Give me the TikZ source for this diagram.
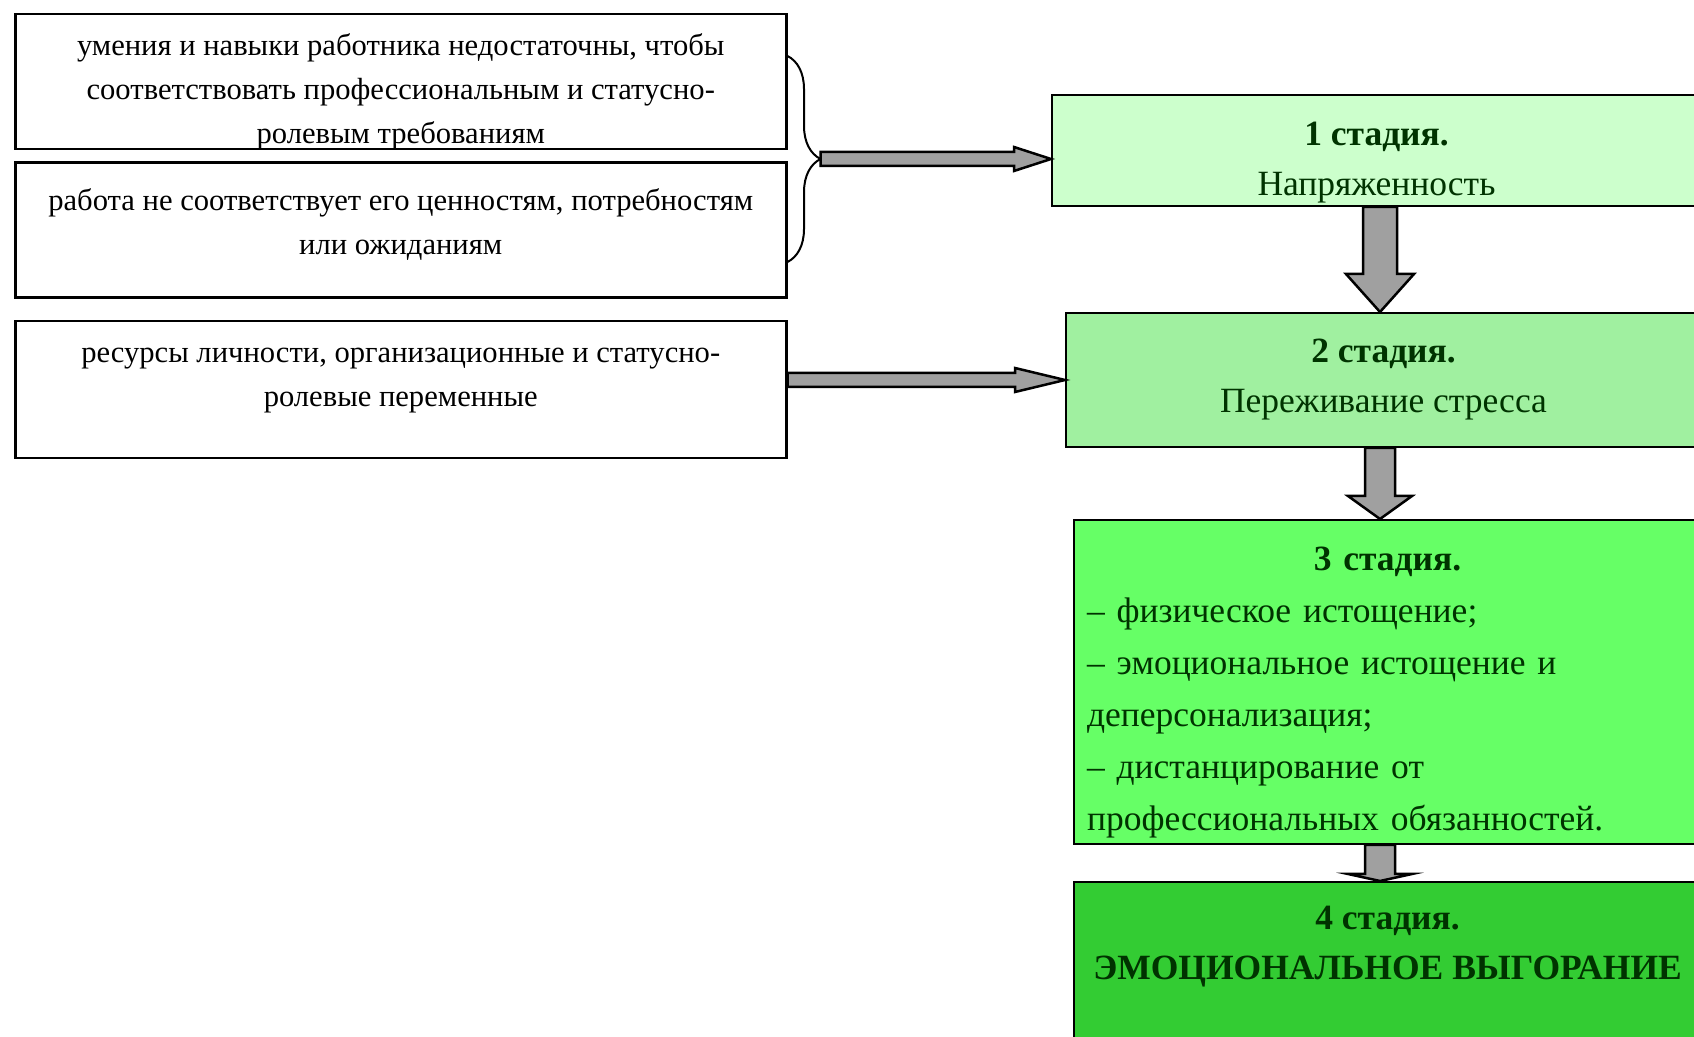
\documentclass[tikz,border=0pt]{standalone}
\usepackage{fontspec}
\setmainfont{Liberation Serif}
\usetikzlibrary{positioning,calc,decorations.pathreplacing}
\definecolor{stageone}{HTML}{CCFFCC}
\definecolor{stagetwo}{HTML}{A0F0A0}
\definecolor{stagethree}{HTML}{66FF66}
\definecolor{stagefour}{HTML}{33CC33}
\definecolor{stagetext}{HTML}{003300}
\definecolor{arrowgray}{HTML}{A0A0A0}
\tikzset{
	leftbox/.style={rectangle, draw=black, line width=2.5pt, minimum width=771pt, inner sep=0pt, anchor=north west},
	lefttext/.style={align=center, font=\fontsize{30.6}{44}\selectfont, inner sep=0pt},
	stagebox/.style={rectangle, draw=black, line width=2pt, inner sep=0pt, anchor=north west},
	stagetext/.style={text=stagetext, align=center, font=\fontsize{35.5}{50}\selectfont, inner sep=0pt},
	blockarrow/.style={draw=black, line width=2.5pt, fill=arrowgray, line join=miter},
}
\begin{document}
\begin{tikzpicture}[x=1pt,y=1pt]
	\path[use as bounding box, fill=white] (0,0) rectangle (1694,1036);
	\clip (0,0) rectangle (1694,1036);
	% left column
	\node[leftbox, minimum height=135pt] (A) at (14,1023) {};
	\node[leftbox, minimum height=135pt] (B) at ([yshift=-11pt]A.south west) {};
	\node[leftbox, minimum height=137pt] (C) at ([yshift=-21pt]B.south west) {};
	\node[lefttext] (At) at ([yshift=-10pt]A.center) {умения и навыки работника недостаточны, чтобы\\соответствовать профессиональным и статусно-\\ролевым требованиям};
	\node[lefttext] (Bt) at ([yshift=6pt]B.center) {работа не соответствует его ценностям, потребностям\\или ожиданиям};
	\node[lefttext] (Ct) at ([yshift=9pt]C.center) {ресурсы личности, организационные и статусно-\\ролевые переменные};
	% stages
	\node[stagebox, fill=stageone, minimum width=649pt, minimum height=111pt] (S1) at (1051,942) {};
	\node[stagebox, fill=stagetwo, minimum width=635pt, minimum height=134pt] (S2) at ([xshift=14pt,yshift=-105pt]S1.south west) {};
	\node[stagebox, fill=stagethree, minimum width=627pt, minimum height=324pt] (S3) at ([xshift=8pt,yshift=-71pt]S2.south west) {};
	\node[stagebox, fill=stagefour, minimum width=627pt, minimum height=156pt] (S4) at ([yshift=-36pt]S3.south west) {};
	\node[stagetext] (S1t) at ([yshift=-69pt]S1.north) {\textbf{1 стадия.}\\Напряженность};
	\node[stagetext] (S2t) at (S2.center) {\textbf{2 стадия.}\\Переживание стресса};
	\node[stagetext, text width=601pt, align=left, font=\fontsize{35.5}{52}\selectfont] (S3t) at ([yshift=-174pt]S3.north) {\makebox[601pt]{\textbf{3 стадия.}}\\– физическое истощение;\\– эмоциональное истощение и\\деперсонализация;\\– дистанцирование от\\профессиональных обязанностей.};
	\node[stagetext] (S4t) at ([yshift=-66pt]S4.north) {\textbf{4 стадия.}\\\textbf{ЭМОЦИОНАЛЬНОЕ ВЫГОРАНИЕ}};
	% brace
	\coordinate (bt) at ([yshift=-43pt]A.north east);
	\coordinate (bb) at ([yshift=37pt]B.south east);
	\draw[line width=2pt, decorate, decoration={brace, amplitude=33pt}] (bt) -- (bb);
	\coordinate (tip) at ($(bt)!0.5!(bb)+(33,0)$);
	\coordinate (ax) at (1380,0);
	% horizontal arrows
	\draw[blockarrow] ([yshift=7pt]tip) -- ([xshift=-37pt,yshift=7pt]tip -| S1.west) -- ([xshift=-37pt,yshift=12pt]tip -| S1.west) -- (tip -| S1.west) -- ([xshift=-37pt,yshift=-12pt]tip -| S1.west) -- ([xshift=-37pt,yshift=-7pt]tip -| S1.west) -- ([yshift=-7pt]tip) -- cycle;
	\draw[blockarrow] ([yshift=7pt]C.east |- S2.west) -- ([xshift=-50pt,yshift=7pt]S2.west) -- ([xshift=-50pt,yshift=12pt]S2.west) -- (S2.west) -- ([xshift=-50pt,yshift=-12pt]S2.west) -- ([xshift=-50pt,yshift=-7pt]S2.west) -- ([yshift=-7pt]C.east |- S2.west) -- cycle;
	% down arrows
	\draw[blockarrow] ([xshift=-17pt]S1.south -| ax) -- ([xshift=-17pt,yshift=38pt]S2.north -| ax) -- ([xshift=-34pt,yshift=38pt]S2.north -| ax) -- (S2.north -| ax) -- ([xshift=34pt,yshift=38pt]S2.north -| ax) -- ([xshift=17pt,yshift=38pt]S2.north -| ax) -- ([xshift=17pt]S1.south -| ax) -- cycle;
	\draw[blockarrow] ([xshift=-15pt]S2.south -| ax) -- ([xshift=-15pt,yshift=23pt]S3.north -| ax) -- ([xshift=-32pt,yshift=23pt]S3.north -| ax) -- (S3.north -| ax) -- ([xshift=32pt,yshift=23pt]S3.north -| ax) -- ([xshift=15pt,yshift=23pt]S3.north -| ax) -- ([xshift=15pt]S2.south -| ax) -- cycle;
	\draw[blockarrow] ([xshift=-15pt]S3.south -| ax) -- ([xshift=-15pt,yshift=7pt]S4.north -| ax) -- ([xshift=-32pt,yshift=7pt]S4.north -| ax) -- (S4.north -| ax) -- ([xshift=32pt,yshift=7pt]S4.north -| ax) -- ([xshift=15pt,yshift=7pt]S4.north -| ax) -- ([xshift=15pt]S3.south -| ax) -- cycle;
\end{tikzpicture}
\end{document}
